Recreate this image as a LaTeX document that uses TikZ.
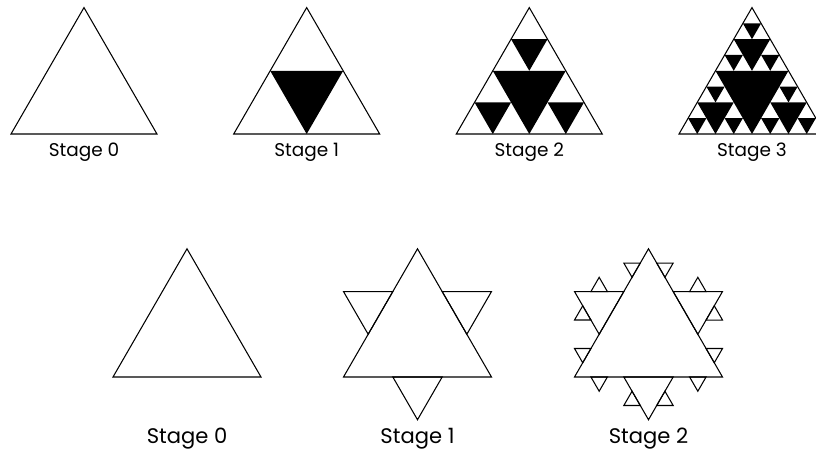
\documentclass[tikz,border=0pt]{standalone}
\usepackage{fontspec}
\setsansfont{Poppins}
\usetikzlibrary{calc}

% black hole in the middle of a sub triangle (lattice units)
\newcommand\sierpHole[3]{%
  \fill[sierpFill] ({#1+#3/2},{#2}) -- ({#1+#3/2},{#2+#3/2})
    -- ({#1},{#2+#3/2}) -- cycle;}
% outward triangle on the middle third of a side
\newcommand\kochBump[3]{%
  \coordinate (#3a) at ($(#1)!1/3!(#2)$);
  \coordinate (#3b) at ($(#1)!2/3!(#2)$);
  \coordinate (#3t) at ($(#3a)!1!-60:(#3b)$);
  \draw[kochLine] (#3a) -- (#3t) -- (#3b) -- cycle;}

\begin{document}
\begin{tikzpicture}[x=.02cm,y=-.02cm,
      outline/.style={draw=black, line width=.6pt},
      sierpFill/.style={fill=black},
      sierpGrid/.style={x={(.365cm,0cm)}, y={(.1825cm,.3161cm)}},
      kochLine/.style={draw=black, line width=.6pt},
      topLabel/.style={font=\fontsize{10.5}{12}\selectfont\sffamily,
        anchor=base, inner sep=0pt},
      botLabel/.style={font=\fontsize{12}{14}\selectfont\sffamily,
        anchor=base, inner sep=0pt}]
      \useasboundingbox (0,0) rectangle (816,450);
      \fill[white] (0,0) rectangle (816,450);

      % Sierpinski triangle, stages 0 to 3
      \begin{scope}[shift={(11,134)}, sierpGrid]
        \draw[outline] (0,0) -- (8,0) -- (0,8) -- cycle;
      \end{scope}
      \begin{scope}[shift={(233.7,134)}, sierpGrid]
        \draw[outline] (0,0) -- (8,0) -- (0,8) -- cycle;
        \sierpHole{0}{0}{8}
      \end{scope}
      \begin{scope}[shift={(456.3,134)}, sierpGrid]
        \draw[outline] (0,0) -- (8,0) -- (0,8) -- cycle;
        \sierpHole{0}{0}{8}
        \foreach \a/\b in {0/0,4/0,0/4} {\sierpHole{\a}{\b}{4}}
      \end{scope}
      \begin{scope}[shift={(679,134)}, sierpGrid]
        \draw[outline] (0,0) -- (8,0) -- (0,8) -- cycle;
        \sierpHole{0}{0}{8}
        \foreach \a/\b in {0/0,4/0,0/4} {
          \sierpHole{\a}{\b}{4}
          \foreach \c/\d in {0/0,2/0,0/2} {\sierpHole{\a+\c}{\b+\d}{2}}}
      \end{scope}

      \node[topLabel] (sierpLabel0) at (84,156.5) {Stage 0};
      \node[topLabel] (sierpLabel1) at (306.7,156.5) {Stage 1};
      \node[topLabel] (sierpLabel2) at (529.3,156.5) {Stage 2};
      \node[topLabel] (sierpLabel3) at (752,156.5) {Stage 3};

      % Koch star, stages 0 to 2
      \coordinate (k0A) at (113,377);
      \coordinate (k0B) at (261,377);
      \coordinate (k0C) at (187,248.8);
      \draw[kochLine] (k0A) -- (k0B) -- (k0C) -- cycle;

      \coordinate (k1A) at (343.5,377);
      \coordinate (k1B) at (491.5,377);
      \coordinate (k1C) at (417.5,248.8);
      \draw[kochLine] (k1A) -- (k1B) -- (k1C) -- cycle;
      \kochBump{k1A}{k1B}{k1ab}
      \kochBump{k1B}{k1C}{k1bc}
      \kochBump{k1C}{k1A}{k1ca}

      \coordinate (k2A) at (574.5,377);
      \coordinate (k2B) at (722.5,377);
      \coordinate (k2C) at (648.5,248.8);
      \draw[kochLine] (k2A) -- (k2B) -- (k2C) -- cycle;
      \foreach \ea/\eb/\en in {A/B/ab,B/C/bc,C/A/ca} {
        \kochBump{k2\ea}{k2\eb}{k2\en}
        \kochBump{k2\ea}{k2\en a}{k2\en 1}
        \kochBump{k2\en a}{k2\en t}{k2\en 2}
        \kochBump{k2\en t}{k2\en b}{k2\en 3}
        \kochBump{k2\en b}{k2\eb}{k2\en 4}}

      \node[botLabel] (kochLabel0) at (187,443) {Stage 0};
      \node[botLabel] (kochLabel1) at (417.5,443) {Stage 1};
      \node[botLabel] (kochLabel2) at (648.5,443) {Stage 2};
    \end{tikzpicture}
\end{document}
